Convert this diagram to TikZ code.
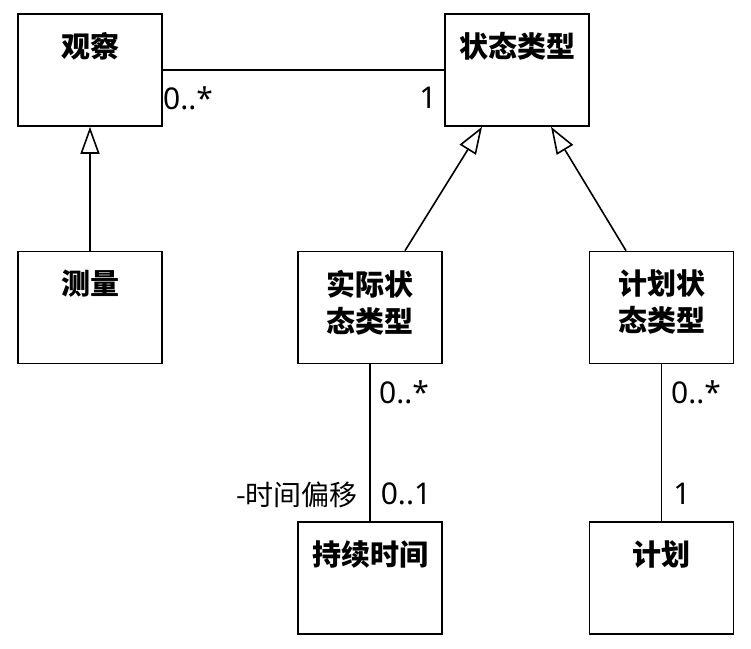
\documentclass[tikz,border=0pt]{standalone}
\usepackage{fontspec}
\newfontfamily\cjk{Noto Sans CJK SC}
\newfontfamily\lab{Noto Sans}
\usetikzlibrary{arrows.meta}
\tikzset{
  cls/.style={draw, line width=1.6pt, minimum width=144pt, minimum height=112pt, inner sep=0pt},
  ttl/.style={anchor=north, inner sep=0pt, yshift=-19pt, align=center, font=\cjk\bfseries\fontsize{29}{37}\selectfont},
  conn/.style={line width=1.6pt},
  gen/.style={line width=1.6pt, -{Triangle[length=27pt, width=19pt, fill=white, line width=1.6pt]}},
  mult/.style={inner sep=0pt, font=\lab\fontsize{30}{36}\selectfont},
  role/.style={inner sep=0pt, font=\cjk\fontsize{28}{34}\selectfont}
}
\begin{document}
\begin{tikzpicture}[x=1pt, y=-1pt]
\useasboundingbox (0,0) rectangle (751,648);
\node[cls, label={[ttl]north:观察}] (obs) at (90,70) {};
\node[cls, label={[ttl]north:状态类型}] (st) at (517,70) {};
\node[cls, label={[ttl]north:测量}] (meas) at (90,307.5) {};
\node[cls, label={[ttl]north:实际状\\态类型}] (act) at (370,307.5) {};
\node[cls, label={[ttl]north:计划状\\态类型}] (pst) at (661.5,307.5) {};
\node[cls, label={[ttl]north:持续时间}] (dur) at (370,578) {};
\node[cls, label={[ttl]north:计划}] (plan) at (661.5,578) {};

\draw[conn] (obs.east) -- (st.west);
\draw[gen] (meas.north) -- (obs.south);
\draw[gen] ([xshift=35pt]act.north) -- ([xshift=-35pt]st.south);
\draw[gen] ([xshift=-35.5pt]pst.north) -- ([xshift=34pt]st.south);
\draw[conn] (act.south) -- (dur.north);
\draw[conn] (pst.south) -- (plan.north);

\node[mult] (m1) at (188,98) {0..*};
\node[mult] (m2) at (428,98) {1};
\node[mult] (m3) at (404,392) {0..*};
\node[mult] (m4) at (406,494) {0..1};
\node[role, anchor=east] (r1) at (358,495) {-时间偏移};
\node[mult] (m5) at (696,392) {0..*};
\node[mult] (m6) at (682,494) {1};
\end{tikzpicture}
\end{document}
